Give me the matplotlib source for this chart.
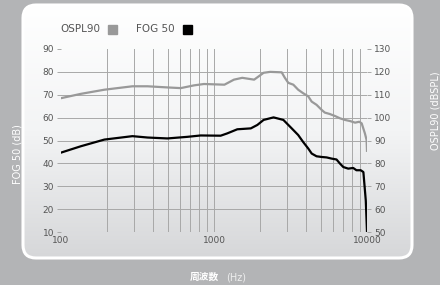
import numpy as np
import matplotlib
matplotlib.use("Agg")
import matplotlib.pyplot as plt
from matplotlib.patches import FancyBboxPatch, Rectangle

# OSPL90 (右軸, dB SPL)
ospl_freq = [100, 135, 192, 293, 368, 496, 606, 740, 860, 1170, 1350, 1530, 1830,
             2110, 2330, 2770, 2905, 3060, 3300, 3550, 3820, 4130, 4350, 4680, 5050,
             5300, 5700, 6180, 6660, 7180, 7750, 8360, 8900, 9230, 9690, 9940, 10000]
ospl_val = [108.5, 110.4, 112.2, 113.7, 113.7, 113.2, 112.9, 114.1, 114.7, 114.4, 116.6,
            117.4, 116.6, 119.6, 120.0, 119.8, 117.4, 115.2, 114.4, 112.2, 110.7, 109.3,
            107.0, 105.6, 103.4, 102.2, 101.6, 100.7, 99.7, 99.0, 98.5, 97.8, 98.2, 97.5,
            93.1, 90.2, 85.5]

# FOG 50 (左軸, dB)
fog_freq = [100, 135, 192, 293, 368, 496, 670, 818, 1105, 1220, 1420, 1740, 1920,
            2110, 2450, 2840, 3220, 3550, 3820, 4130, 4350, 4680, 5050, 5450, 5860,
            6320, 6660, 7000, 7540, 8120, 8530, 9100, 9470, 9820, 10000]
fog_val = [44.7, 47.5, 50.4, 51.9, 51.3, 50.9, 51.6, 52.2, 52.1, 53.1, 54.9, 55.3, 56.8,
           59.0, 60.1, 59.0, 55.3, 52.4, 49.4, 46.5, 44.3, 43.1, 42.8, 42.6, 42.1,
           41.7, 39.9, 38.4, 37.7, 38.0, 37.0, 37.0, 36.2, 23.7, 10.1]

left_ticks = [10, 20, 30, 40, 50, 60, 70, 80, 90]
right_ticks = [50, 60, 70, 80, 90, 100, 110, 120, 130]
x_ticks = [100, 1000, 10000]
grid_freqs = [200, 300, 400, 500, 600, 700, 800, 900, 1000,
              2000, 3000, 4000, 5000, 6000, 7000, 8000, 9000]

W, H = 440, 285
fig = plt.figure(figsize=(W / 100, H / 100), dpi=100, facecolor="#b3b4b6")

# 背景パネル
bg = fig.add_axes([0, 0, 1, 1])
bg.set_xlim(0, W)
bg.set_ylim(H, 0)
bg.axis("off")
panel = FancyBboxPatch((23, 5), 389, 253, boxstyle="round,pad=0,rounding_size=13",
                       facecolor="none", edgecolor="white", lw=2.2, zorder=3)
bg.add_patch(panel)
grad = np.linspace(0, 1, 256).reshape(-1, 1)
cmap = matplotlib.colors.LinearSegmentedColormap.from_list("g", ["#ffffff", "#f3f4f5", "#d6d7d9"])
im = bg.imshow(grad, cmap=cmap, extent=(23, 412, 258, 5), aspect="auto", zorder=2)
im.set_clip_path(panel)

# 凡例
txt_col = "#555555"
bg.text(60, 29, "OSPL90", fontsize=7.5, color=txt_col, va="center", ha="left")
bg.add_patch(Rectangle((108, 25), 8.5, 8.5, color="#999999", zorder=4))
bg.text(136, 29, "FOG 50", fontsize=7.5, color=txt_col, va="center", ha="left")
bg.add_patch(Rectangle((183, 25), 8.5, 8.5, color="#000000", zorder=4))

# 軸ラベル
bg.text(17, 154, "FOG 50 (dB)", rotation=90, fontsize=7, color="white", ha="center", va="center")
bg.text(436, 150, "OSPL90 (dBSPL)", rotation=90, fontsize=7, color="white", ha="center", va="bottom")
bg.text(219, 277, "周波数", fontsize=7, color="white", fontweight="bold", ha="right", va="center",
        family=["Noto Sans CJK JP", "DejaVu Sans"])
bg.text(226, 277, "(Hz)", fontsize=7, color="#eeeeee", ha="left", va="center")

# メイングラフ
ax = fig.add_axes([61 / W, 1 - 232 / H, 306 / W, 183 / H])
ax.set_facecolor("none")
ax.set_xscale("log")
ax.set_xlim(100, 10000)
ax.set_ylim(10, 90)
for s in ax.spines.values():
    s.set_visible(False)

grid_col = "#a8a8a8"
for f in grid_freqs:
    ax.axvline(f, color=grid_col, lw=0.7, zorder=1)
for v in left_ticks[1:-1]:
    ax.axhline(v, color=grid_col, lw=0.7, zorder=1)

ax.set_xticks(x_ticks)
ax.set_xticklabels([str(t) for t in x_ticks])
ax.xaxis.set_minor_locator(matplotlib.ticker.NullLocator())
ax.tick_params(axis="x", length=0, pad=3, labelsize=6.5, labelcolor=txt_col)
ax.set_yticks(left_ticks)
ax.tick_params(axis="y", length=3, color=grid_col, width=0.7, pad=2, labelsize=6.5, labelcolor=txt_col)

ax2 = ax.twinx()
ax2.set_ylim(50, 130)
for s in ax2.spines.values():
    s.set_visible(False)
ax2.set_yticks(right_ticks)
ax2.tick_params(axis="y", length=3, color=grid_col, width=0.7, pad=2, labelsize=6.5, labelcolor=txt_col)

ax2.plot(ospl_freq, ospl_val, color="#999999", lw=1.6, zorder=3)
ax.plot(fog_freq, fog_val, color="#000000", lw=1.6, zorder=3)

fig.savefig("out.png", dpi=100, facecolor=fig.get_facecolor())
